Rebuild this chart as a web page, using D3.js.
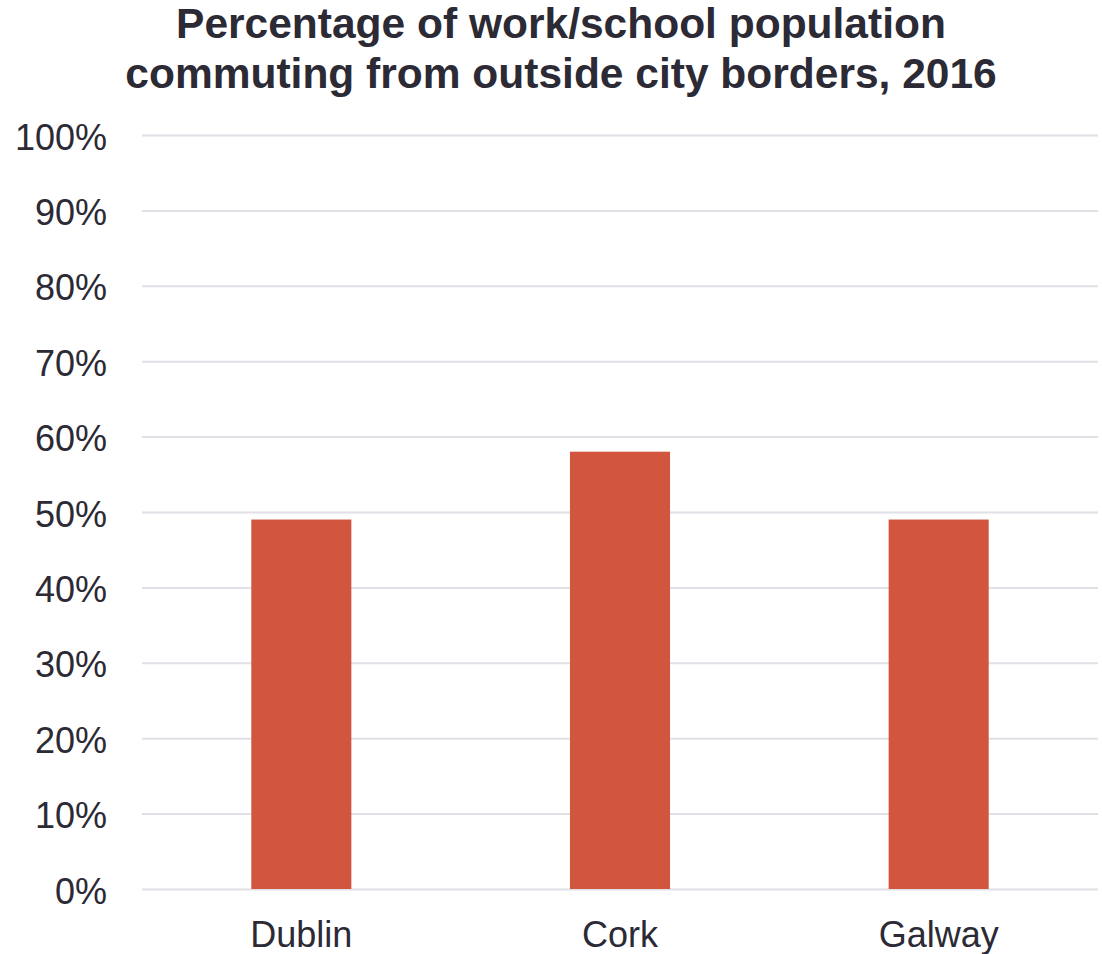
<!DOCTYPE html>
<html>
<head>
<meta charset="utf-8">
<script src="https://cdn.jsdelivr.net/npm/d3@7"></script>
<style>
  html, body { margin: 0; padding: 0; background: #ffffff; }
  svg text { font-family: "Liberation Sans", Arial, Helvetica, sans-serif; fill: #2b2a35; }
</style>
</head>
<body>
<svg id="chart" width="1102" height="954"></svg>
<script>
// Share of the work/school population commuting in from outside city borders
const cities = ["Dublin", "Cork", "Galway"];
const commuterShare = [0.49, 0.58, 0.49];
const yTicks = [0, 0.1, 0.2, 0.3, 0.4, 0.5, 0.6, 0.7, 0.8, 0.9, 1.0];
const titleLines = [
  "Percentage of work/school population",
  "commuting from outside city borders, 2016"
];

const svg = d3.select("#chart");
const margin = { left: 142, right: 4, top: 135, bottom: 65 };
const width = 1102, height = 954;
const fontStack = "\"Liberation Sans\", Arial, Helvetica, sans-serif";

const x = d3.scaleBand()
  .domain(cities)
  .range([margin.left, width - margin.right])
  .paddingInner(0.686)
  .paddingOuter(0.343);

const y = d3.scaleLinear()
  .domain([0, 1])
  .range([height - margin.bottom, margin.top]);

// Title
svg.append("g")
  .selectAll("text")
  .data(titleLines)
  .join("text")
  .attr("x", 561)
  .attr("y", (d, i) => 38 + i * 50)
  .attr("text-anchor", "middle")
  .attr("font-size", 42.5)
  .attr("font-weight", "bold")
  .text(d => d);

// Gridlines and percentage labels
const yAxis = d3.axisLeft(y)
  .tickValues(yTicks)
  .tickFormat(d3.format(".0%"))
  .tickSize(-(width - margin.right - margin.left))
  .tickPadding(35);

const gy = svg.append("g")
  .attr("transform", `translate(${margin.left},0)`)
  .call(yAxis);
gy.select(".domain").remove();
gy.selectAll(".tick line").attr("stroke", "#e0e0e6").attr("stroke-width", 2);
gy.selectAll(".tick text")
  .attr("font-size", 36)
  .attr("dy", "0.39em")
  .attr("fill", "#2b2a35")
  .attr("font-family", fontStack);

// Bars
svg.append("g")
  .selectAll("rect")
  .data(cities.map((c, i) => ({ city: c, value: commuterShare[i] })))
  .join("rect")
  .attr("x", d => x(d.city))
  .attr("y", d => y(d.value))
  .attr("width", x.bandwidth())
  .attr("height", d => y(0) - y(d.value))
  .attr("fill", "#d2553d");

// Category labels
const xAxis = d3.axisBottom(x).tickSize(0).tickPadding(32);
const gx = svg.append("g")
  .attr("transform", `translate(0,${y(0)})`)
  .call(xAxis);
gx.select(".domain").remove();
gx.selectAll(".tick text")
  .attr("font-size", 36)
  .attr("fill", "#2b2a35")
  .attr("font-family", fontStack);
</script>
</body>
</html>
